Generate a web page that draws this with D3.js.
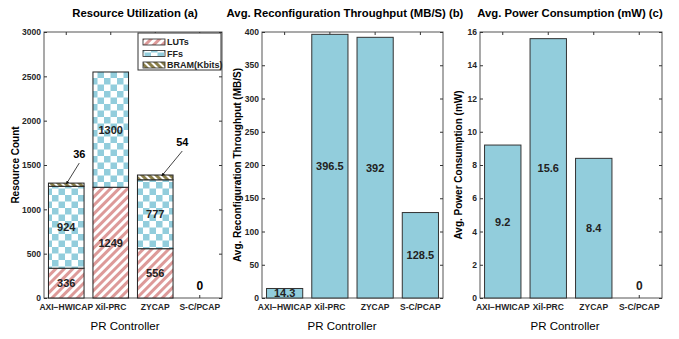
<!DOCTYPE html>
<html>
<head>
<meta charset="utf-8">
<script src="https://cdn.jsdelivr.net/npm/d3@7"></script>
<style>
  body { margin: 0; background: #fff; }
  text { font-family: "Liberation Sans", Arial, sans-serif; }
</style>
</head>
<body>
<svg width="679" height="339"></svg>
<script>
// data
const controllers = ["AXI\u2212HWICAP", "Xil-PRC", "ZYCAP", "S-C/PCAP"];
const luts = [336, 1249, 556, 0];
const ffs = [924, 1300, 777, 0];
const bram = [36, 0, 54, 0];
const throughput = [14.3, 396.5, 392, 128.5];
const power = [9.2, 15.6, 8.4, 0];
const resourceTicks = [0, 500, 1000, 1500, 2000, 2500, 3000];
const throughputTicks = [0, 50, 100, 150, 200, 250, 300, 350, 400];
const powerTicks = [0, 2, 4, 6, 8, 10, 12, 14, 16];
const seriesNames = ["LUTs", "FFs", "BRAM(Kbits)"];
const bramNotes = [{cat: "AXI\u2212HWICAP", text: "36"}, {cat: "ZYCAP", text: "54"}];

const svg = d3.select("svg");
const top0 = 32, bottom0 = 298;
const blue = "#92cddc";

// patterns
const defs = svg.append("defs");
const pLut = defs.append("pattern").attr("id", "lut").attr("patternUnits", "userSpaceOnUse")
    .attr("width", 6).attr("height", 6).attr("patternTransform", "rotate(45)");
pLut.append("rect").attr("width", 6).attr("height", 6).attr("fill", "#fff");
pLut.append("rect").attr("width", 3).attr("height", 6).attr("fill", "#dd9a99");

const pFf = defs.append("pattern").attr("id", "ff").attr("patternUnits", "userSpaceOnUse")
    .attr("width", 13).attr("height", 13);
pFf.append("rect").attr("width", 13).attr("height", 13).attr("fill", "#fff");
pFf.append("rect").attr("width", 6.5).attr("height", 6.5).attr("fill", blue);
pFf.append("rect").attr("x", 6.5).attr("y", 6.5).attr("width", 6.5).attr("height", 6.5).attr("fill", blue);

const pBram = defs.append("pattern").attr("id", "bram").attr("patternUnits", "userSpaceOnUse")
    .attr("width", 5).attr("height", 5).attr("patternTransform", "rotate(-45)");
pBram.append("rect").attr("width", 5).attr("height", 5).attr("fill", "#fff");
pBram.append("rect").attr("width", 3).attr("height", 5).attr("fill", "#8a7f4a");

const patterns = ["url(#lut)", "url(#ff)", "url(#bram)"];

function makePanel(left, right, maxY, ticks, opts) {
    const g = svg.append("g");
    const x = d3.scaleBand().domain(controllers).range([left, right])
        .paddingInner(0.2).paddingOuter(0.1);
    const y = d3.scaleLinear().domain([0, maxY]).range([bottom0, top0]);

    // box
    g.append("rect").attr("x", left).attr("y", top0)
        .attr("width", right - left).attr("height", bottom0 - top0)
        .attr("fill", "none").attr("stroke", "#555").attr("stroke-width", 1);

    const yAxis = g.append("g").attr("transform", `translate(${left},0)`)
        .call(d3.axisLeft(y).tickValues(ticks).tickSize(-3).tickPadding(3).tickFormat(d3.format("d")));
    const yAxisR = g.append("g").attr("transform", `translate(${right},0)`)
        .call(d3.axisRight(y).tickValues(ticks).tickSize(-3).tickFormat(""));
    const xAxis = g.append("g").attr("transform", `translate(0,${bottom0})`)
        .call(d3.axisBottom(x).tickSize(-3).tickPadding(6));
    const xAxisT = g.append("g").attr("transform", `translate(0,${top0})`)
        .call(d3.axisTop(x).tickSize(-3).tickFormat(""));
    [yAxis, yAxisR, xAxis, xAxisT].forEach(a => {
        a.select(".domain").remove();
        a.selectAll("line").attr("stroke", "#333");
        a.selectAll("text").attr("font-size", "8.5px").attr("font-weight", "bold").attr("fill", "#262626");
    });

    g.append("text").attr("x", opts.titleX).attr("y", 17)
        .attr("text-anchor", "middle").attr("font-size", "11.3px").attr("font-weight", "bold")
        .text(opts.title);
    g.append("text").attr("x", opts.xLabelX).attr("y", 330)
        .attr("text-anchor", "middle").attr("font-size", "11.5px")
        .text("PR Controller");
    g.append("text").attr("transform", `translate(${opts.yLabelX},${(top0 + bottom0) / 2}) rotate(-90)`)
        .attr("text-anchor", "middle").attr("font-size", "10px").attr("font-weight", "bold")
        .text(opts.yLabel);
    return {g, x, y};
}

// panel (a)
const a = makePanel(44, 222, 3000, resourceTicks, {
    title: "Resource Utilization (a)", titleX: 135, xLabelX: 125, yLabelX: 19, yLabel: "Resource Count"
});
const stackData = controllers.map((c, i) => ({cat: c, LUTs: luts[i], FFs: ffs[i], "BRAM(Kbits)": bram[i]}));
const stacked = d3.stack().keys(seriesNames)(stackData);
stacked.forEach((s, si) => {
    a.g.selectAll(null).data(s.filter(d => d[1] > d[0])).enter().append("rect")
        .attr("x", d => a.x(d.data.cat))
        .attr("y", d => a.y(d[1]))
        .attr("width", a.x.bandwidth())
        .attr("height", d => a.y(d[0]) - a.y(d[1]))
        .attr("fill", patterns[si])
        .attr("stroke", "#222").attr("stroke-width", 1);
});
// segment labels
[luts, ffs].forEach((arr, si) => {
    a.g.selectAll(null).data(stacked[si].filter(d => d[1] > d[0])).enter().append("text")
        .attr("x", d => a.x(d.data.cat) + a.x.bandwidth() / 2)
        .attr("y", d => a.y((d[0] + d[1]) / 2) + 4)
        .attr("text-anchor", "middle").attr("font-size", "11px").attr("font-weight", "bold")
        .attr("fill", "#222").text(d => d[1] - d[0]);
});
a.g.append("text").attr("x", a.x("S-C/PCAP") + a.x.bandwidth() / 2).attr("y", a.y(0) - 8)
    .attr("text-anchor", "middle").attr("font-size", "12px").attr("font-weight", "bold").text(luts[3]);

// annotations
defs.append("marker").attr("id", "arr").attr("viewBox", "0 0 6 6").attr("refX", 6).attr("refY", 3)
    .attr("markerWidth", 4).attr("markerHeight", 4).attr("orient", "auto")
    .append("path").attr("d", "M0,0L6,3L0,6Z").attr("fill", "#111");
const noteOffsets = [{tx: 13, ty: -25, ex: 0.5}, {tx: 27, ty: -29, ex: 0.68}];
bramNotes.forEach((n, k) => {
    const i = controllers.indexOf(n.cat);
    const total = luts[i] + ffs[i] + bram[i];
    const ex = a.x(n.cat) + a.x.bandwidth() * noteOffsets[k].ex;
    const ey = a.y(total) + 1;
    const tx = a.x(n.cat) + a.x.bandwidth() / 2 + noteOffsets[k].tx;
    const ty = a.y(total) + noteOffsets[k].ty;
    a.g.append("line").attr("x1", tx).attr("y1", ty + 5).attr("x2", ex).attr("y2", ey)
        .attr("stroke", "#111").attr("stroke-width", 0.8).attr("marker-end", "url(#arr)");
    a.g.append("text").attr("x", tx).attr("y", ty).attr("text-anchor", "middle")
        .attr("font-size", "11px").attr("font-weight", "bold").text(n.text);
});

// legend
const lg = a.g.append("g").attr("transform", "translate(138,33)");
lg.append("rect").attr("width", 83).attr("height", 37).attr("fill", "#fff")
    .attr("stroke", "#333").attr("stroke-width", 1);
seriesNames.forEach((s, i) => {
    lg.append("rect").attr("x", 5).attr("y", 6 + i * 11.5).attr("width", 22).attr("height", 6)
        .attr("fill", patterns[i]).attr("stroke", "#222").attr("stroke-width", 0.8);
    lg.append("text").attr("x", 29).attr("y", 12 + i * 11.5).attr("font-size", "9px")
        .attr("font-weight", "bold").attr("fill", "#222").text(s);
});

// simple bar panels
function simpleBars(p, values, fmt) {
    const data = controllers.map((c, i) => ({cat: c, v: values[i]}));
    p.g.selectAll(null).data(data.filter(d => d.v > 0)).enter().append("rect")
        .attr("x", d => p.x(d.cat)).attr("y", d => p.y(d.v))
        .attr("width", p.x.bandwidth()).attr("height", d => p.y(0) - p.y(d.v))
        .attr("fill", blue).attr("stroke", "#333").attr("stroke-width", 1);
    p.g.selectAll(null).data(data).enter().append("text")
        .attr("x", d => p.x(d.cat) + p.x.bandwidth() / 2)
        .attr("y", d => d.v > 0 ? p.y(d.v / 2) + 4 : p.y(0) - 8)
        .attr("text-anchor", "middle").attr("font-weight", "bold")
        .attr("font-size", d => d.v > 0 ? "11px" : "12px").attr("fill", "#222")
        .text(d => fmt(d.v));
}

const b = makePanel(262, 443, 400, throughputTicks, {
    title: "Avg. Reconfiguration Throughput (MB/S) (b)", titleX: 345, xLabelX: 342, yLabelX: 241,
    yLabel: "Avg. Reconfiguration Throughput (MB/S)"
});
simpleBars(b, throughput, v => v);

const c = makePanel(480, 662, 16, powerTicks, {
    title: "Avg. Power Consumption (mW) (c)", titleX: 570, xLabelX: 565, yLabelX: 462,
    yLabel: "Avg. Power Consumption (mW)"
});
simpleBars(c, power, v => v);
</script>
</body>
</html>
